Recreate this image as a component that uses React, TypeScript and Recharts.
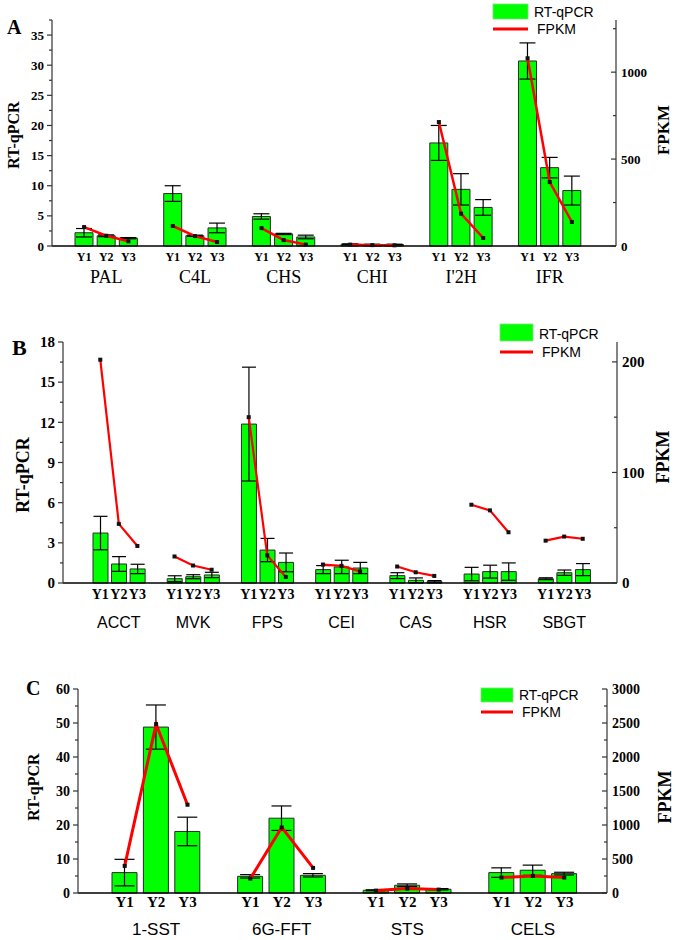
import React from 'react';
import { ComposedChart, Bar, Line, XAxis, YAxis, ErrorBar } from 'recharts';

const years = ['Y1', 'Y2', 'Y3'];

// A
const genesA = ['PAL', 'C4L', 'CHS', 'CHI', "I'2H", 'IFR'];
const qpcrA = [[2.2, 1.7, 1.3], [8.7, 1.7, 3.0], [4.9, 2.0, 1.5], [0.3, 0.25, 0.25], [17.1, 9.4, 6.4], [30.7, 13.0, 9.2]];
const errA = [[0.7, 0.15, 0.1], [1.3, 0.1, 0.8], [0.45, 0.1, 0.3], [0.05, 0.05, 0.05], [2.9, 2.6, 1.3], [3.0, 1.7, 2.4]];
const fpkmA = [[109, 59, 27], [115, 57, 23], [103, 34, 8], [8, 5, 4], [713, 186, 46], [1080, 368, 138]];
const leftTicksA = [0, 5, 10, 15, 20, 25, 30, 35];
const rightTicksA = [0, 500, 1000];

// B
const genesB = ['ACCT', 'MVK', 'FPS', 'CEI', 'CAS', 'HSR', 'SBGT'];
const qpcrB = [[3.73, 1.42, 1.05], [0.32, 0.47, 0.6], [11.87, 2.46, 1.54], [1.0, 1.2, 1.12], [0.55, 0.2, 0.1], [0.67, 0.85, 0.85], [0.32, 0.77, 1.0]];
const errB = [[1.25, 0.55, 0.35], [0.22, 0.15, 0.2], [4.25, 0.87, 0.7], [0.3, 0.5, 0.42], [0.22, 0.18, 0.08], [0.5, 0.48, 0.65], [0.07, 0.2, 0.45]];
const fpkmB = [[202, 53.5, 33.5], [24, 15.8, 12], [150, 25, 5.5], [16.7, 15.5, 10.5], [14.9, 9.7, 6.4], [70.8, 65.7, 45.9], [38.3, 42, 40]];
const leftTicksB = [0, 3, 6, 9, 12, 15, 18];
const rightTicksB = [0, 100, 200];

// C
const genesC = ['1-SST', '6G-FFT', 'STS', 'CELS'];
const qpcrC = [[6.0, 48.8, 18.1], [4.9, 22.0, 5.2], [0.8, 2.27, 1.1], [6.0, 6.7, 5.7]];
const errC = [[3.9, 6.5, 4.2], [0.5, 3.6, 0.5], [0.15, 0.4, 0.2], [1.4, 1.5, 0.4]];
const fpkmC = [[398, 2484, 1298], [211, 964, 369], [35, 65, 50], [227, 251, 227]];
const leftTicksC = [0, 10, 20, 30, 40, 50, 60];
const rightTicksC = [0, 500, 1000, 1500, 2000, 2500, 3000];

const SERIF = "'Liberation Serif', 'Times New Roman', serif";
const SANS = "'Liberation Sans', Arial, sans-serif";
const GREEN = '#00ff00';
const RED = '#ff0000';

function buildRows(genes: string[], q: number[][], e: number[][], f: number[][]) {
  const rows: any[] = [];
  genes.forEach((g, i) => {
    years.forEach((y, j) => {
      rows.push({ id: `${g}|${y}`, gene: g, year: y, q: q[i][j], e: e[i][j], f: f[i][j] });
    });
    if (i < genes.length - 1) rows.push({ id: `gap${i}`, gene: '', year: '', q: null, e: null, f: null });
  });
  return rows;
}

function withMinor(major: number[], step: number, max: number) {
  const out: number[] = [];
  for (let v = 0; v <= max + 1e-9; v += step) out.push(Math.round(v * 1000) / 1000);
  return Array.from(new Set([...out, ...major])).sort((a, b) => a - b);
}

function makeYTick(axisX: number, side: 'left' | 'right', major: number[], fontSize: number) {
  return (props: any) => {
    const { y, payload } = props;
    const isMajor = major.includes(payload.value);
    const len = isMajor ? 5 : 3;
    const x2 = axisX - len;
    return (
      <g>
        <line x1={axisX} x2={x2} y1={y} y2={y} stroke="#333" strokeWidth={1.2} />
        {isMajor && (
          <text
            x={side === 'left' ? axisX - 8 : axisX + 5}
            y={y}
            dy="0.35em"
            textAnchor={side === 'left' ? 'end' : 'start'}
            fontFamily={SERIF}
            fontWeight="bold"
            fontSize={fontSize}
            fill="#000"
          >
            {payload.value}
          </text>
        )}
      </g>
    );
  };
}

function Panel({ cfg, rows }: { cfg: any; rows: any[] }) {
  const axisY = cfg.height - cfg.xAxisHeight;
  const byId: Record<string, any> = {};
  rows.forEach((r) => (byId[r.id] = r));

  const xTick = (props: any) => {
    const { x, payload } = props;
    const r = byId[payload.value];
    if (!r || !r.year) return <g />;
    return (
      <g>
        <text x={x} y={axisY + cfg.yearDy} textAnchor="middle" fontFamily={SERIF} fontWeight="bold" fontSize={cfg.yearSize} fill="#000">
          {r.year}
        </text>
        {r.year === 'Y2' && (
          <text x={x} y={axisY + cfg.geneDy} textAnchor="middle" fontFamily={cfg.geneFont} fontSize={cfg.geneSize} fill="#000">
            {r.gene}
          </text>
        )}
      </g>
    );
  };

  const dot = (p: any) => {
    if (p.value == null || p.cx == null) return <g key={p.index} />;
    return <rect key={p.index} x={p.cx - 2} y={p.cy - 2} width={4} height={4} fill="#111" />;
  };

  return (
    <div style={{ position: 'absolute', left: 0, top: cfg.top, width: 675, height: cfg.height }}>
      <ComposedChart width={675} height={cfg.height} data={rows} margin={{ top: cfg.marginTop, right: 0, bottom: 0, left: 0 }}>
        <XAxis
          dataKey="id"
          interval={0}
          height={cfg.xAxisHeight}
          padding={{ left: cfg.padL, right: cfg.padR }}
          tickLine={false}
          axisLine={{ stroke: '#000', strokeWidth: 1.5 }}
          tick={xTick}
        />
        <YAxis
          yAxisId="left"
          width={cfg.plotLeft}
          domain={cfg.leftDomain}
          ticks={withMinor(cfg.leftTicks, cfg.leftMinor, cfg.leftDomain[1])}
          interval={0}
          tickLine={false}
          axisLine={{ stroke: '#333', strokeWidth: 1.2 }}
          tick={makeYTick(cfg.plotLeft, 'left', cfg.leftTicks, cfg.tickSize)}
        />
        <YAxis
          yAxisId="right"
          orientation="right"
          width={675 - cfg.plotRight}
          domain={cfg.rightDomain}
          ticks={withMinor(cfg.rightTicks, cfg.rightMinor, cfg.rightDomain[1])}
          interval={0}
          tickLine={false}
          axisLine={{ stroke: '#333', strokeWidth: 1.2 }}
          tick={makeYTick(cfg.plotRight, 'right', cfg.rightTicks, cfg.tickSize)}
        />
        <Bar yAxisId="left" dataKey="q" fill={GREEN} stroke="#2a2a2a" strokeWidth={1} barSize={cfg.barSize} isAnimationActive={false}>
          <ErrorBar dataKey="e" width={cfg.capWidth} stroke="#000" strokeWidth={1.2} direction="y" />
        </Bar>
        <Line
          yAxisId="right"
          type="linear"
          dataKey="f"
          stroke={RED}
          strokeWidth={cfg.lineWidth}
          dot={dot}
          activeDot={false}
          isAnimationActive={false}
        />
      </ComposedChart>
      <svg width={675} height={cfg.height} style={{ position: 'absolute', left: 0, top: 0, pointerEvents: 'none' }}>
        <text x={cfg.letter[0]} y={cfg.letter[1]} fontFamily={SERIF} fontWeight="bold" fontSize={cfg.letter[2]}>
          {cfg.letterText}
        </text>
        <text
          transform={`translate(${cfg.leftTitle[0]},${cfg.leftTitle[1]}) rotate(-90)`}
          textAnchor="middle"
          dy="0.35em"
          fontFamily={SERIF}
          fontWeight="bold"
          fontSize={cfg.leftTitle[2]}
        >
          RT-qPCR
        </text>
        <text
          transform={`translate(${cfg.rightTitle[0]},${cfg.rightTitle[1]}) rotate(-90)`}
          textAnchor="middle"
          dy="0.35em"
          fontFamily={SERIF}
          fontWeight="bold"
          fontSize={cfg.rightTitle[2]}
        >
          FPKM
        </text>
        <rect x={cfg.legend.x} y={cfg.legend.y} width={cfg.legend.w} height={cfg.legend.h} fill={GREEN} stroke="#7fe07f" strokeWidth={0.8} />
        <text x={cfg.legend.x + cfg.legend.w + 6} y={cfg.legend.y + cfg.legend.h - 2} fontFamily={SANS} fontSize={cfg.legend.fs}>
          RT-qPCR
        </text>
        <line x1={cfg.legend.x} x2={cfg.legend.x + cfg.legend.w} y1={cfg.legend.lineY} y2={cfg.legend.lineY} stroke={RED} strokeWidth={3} />
        <text x={cfg.legend.x + cfg.legend.w + 9} y={cfg.legend.lineY + 5} fontFamily={SANS} fontSize={cfg.legend.fs}>
          FPKM
        </text>
      </svg>
    </div>
  );
}

const cfgA = {
  top: 0, height: 290, marginTop: 20, xAxisHeight: 44, plotLeft: 52, plotRight: 616, padL: 21, padR: 33,
  barSize: 18, capWidth: 8, lineWidth: 2.5,
  leftDomain: [0, 37.5], leftTicks: leftTicksA, leftMinor: 2.5,
  rightDomain: [0, 1300], rightTicks: rightTicksA, rightMinor: 250,
  tickSize: 13, yearDy: 15, yearSize: 12, geneDy: 37, geneSize: 18, geneFont: SERIF,
  letterText: 'A', letter: [7, 34, 20], leftTitle: [13, 135, 16], rightTitle: [663, 130, 17],
  legend: { x: 493, y: 4, w: 35, h: 15, lineY: 29, fs: 14 },
};

const cfgB = {
  top: 290, height: 350, marginTop: 52, xAxisHeight: 57, plotLeft: 63, plotRight: 617, padL: 28, padR: 25,
  barSize: 15, capWidth: 7, lineWidth: 2.2,
  leftDomain: [0, 18], leftTicks: leftTicksB, leftMinor: 1.5,
  rightDomain: [0, 218], rightTicks: rightTicksB, rightMinor: 50,
  tickSize: 15, yearDy: 16, yearSize: 14, geneDy: 45, geneSize: 16, geneFont: SANS,
  letterText: 'B', letter: [12, 65, 22], leftTitle: [23, 185, 18], rightTitle: [663, 167, 18],
  legend: { x: 500, y: 34, w: 33, h: 17, lineY: 62, fs: 14 },
};

const cfgC = {
  top: 640, height: 300, marginTop: 49, xAxisHeight: 47, plotLeft: 78, plotRight: 607, padL: 31, padR: 27,
  barSize: 25, capWidth: 10, lineWidth: 3,
  leftDomain: [0, 60], leftTicks: leftTicksC, leftMinor: 5,
  rightDomain: [0, 3000], rightTicks: rightTicksC, rightMinor: 250,
  tickSize: 14, yearDy: 14, yearSize: 15, geneDy: 42, geneSize: 17, geneFont: SANS,
  letterText: 'C', letter: [26, 55, 20], leftTitle: [33, 147, 16], rightTitle: [665, 157, 18],
  legend: { x: 481, y: 48, w: 32, h: 14, lineY: 72, fs: 14 },
};

export default function App() {
  return (
    <div style={{ position: 'absolute', left: 0, top: 0, width: 675, height: 940, background: '#fff' }}>
      <Panel cfg={cfgA} rows={buildRows(genesA, qpcrA, errA, fpkmA)} />
      <Panel cfg={cfgB} rows={buildRows(genesB, qpcrB, errB, fpkmB)} />
      <Panel cfg={cfgC} rows={buildRows(genesC, qpcrC, errC, fpkmC)} />
    </div>
  );
}
